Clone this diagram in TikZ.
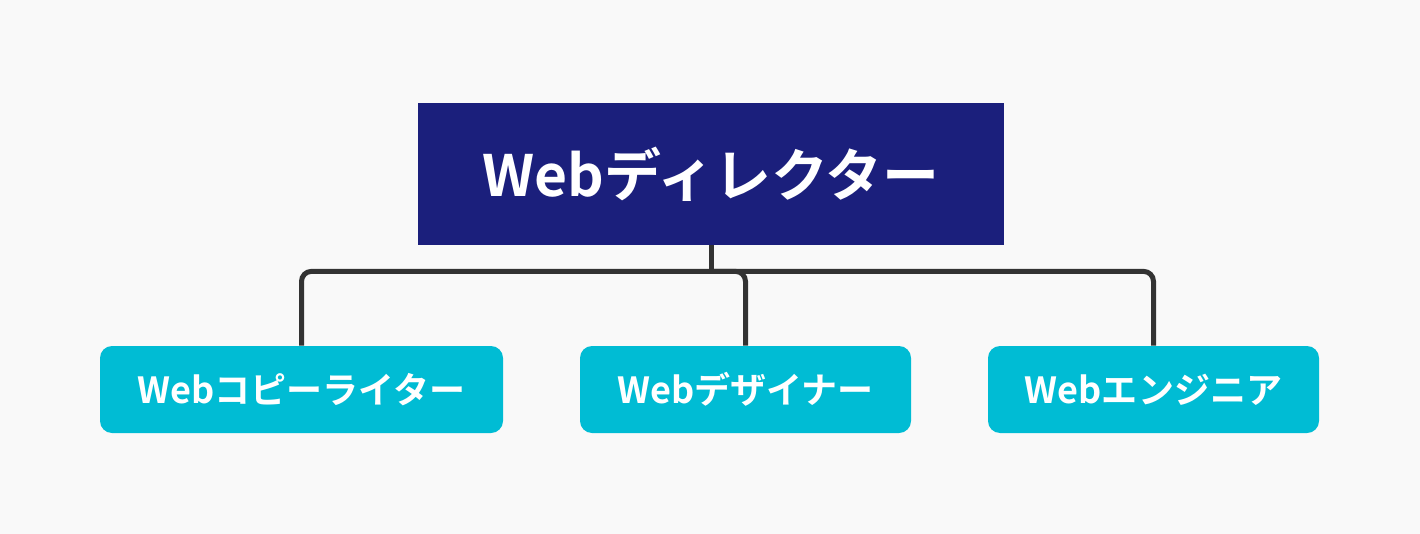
\documentclass[tikz,border=0pt]{standalone}
\usepackage{fontspec}
\newfontfamily\jpfont{Noto Sans CJK JP}[BoldFont={Noto Sans CJK JP Bold}]
\usepackage{xcolor}
\usetikzlibrary{positioning}
\definecolor{fondo}{HTML}{F9F9F9}
\definecolor{marino}{HTML}{1B1F7C}
\definecolor{celeste}{HTML}{00BCD4}
\definecolor{linea}{HTML}{333333}

\begin{document}
\begin{tikzpicture}[
	jefe/.style={fill=marino, text=white, minimum width=11.72cm, minimum height=2.84cm,
		inner sep=0pt, font=\jpfont\bfseries\fontsize{32.4}{38}\selectfont},
	puesto/.style={fill=celeste, text=white, rounded corners=0.24cm, minimum height=1.74cm,
		inner sep=0pt, font=\jpfont\bfseries\fontsize{20.5}{24}\selectfont},
	rama/.style={line width=0.1cm, linea, rounded corners=0.2cm}
	]
	%% Fondo
	\fill [fondo] (0,0) rectangle (28.4,-10.68);
	\useasboundingbox (0,0) rectangle (28.4,-10.68);
	
	%% Puestos
	\node [jefe] (dir) at (14.22,-3.48) {Webディレクター};
	
	\node [puesto, minimum width=8.06cm] (cop) at (6.03,-7.79) {Webコピーライター};
	\node [puesto, minimum width=6.62cm] (dis) at (14.91,-7.79) {Webデザイナー};
	\node [puesto, minimum width=6.62cm] (ing) at (23.07,-7.79) {Webエンジニア};
	
	%% Ramas
	\coordinate (bus) at ([yshift=-0.52cm] dir.south);
	\draw [rama] (dir.south) -- (bus);
	\draw [rama] (bus) -| (cop.north);
	\draw [rama] (bus) -| (dis.north);
	\draw [rama] (bus) -| (ing.north);
	
\end{tikzpicture}
\end{document}
